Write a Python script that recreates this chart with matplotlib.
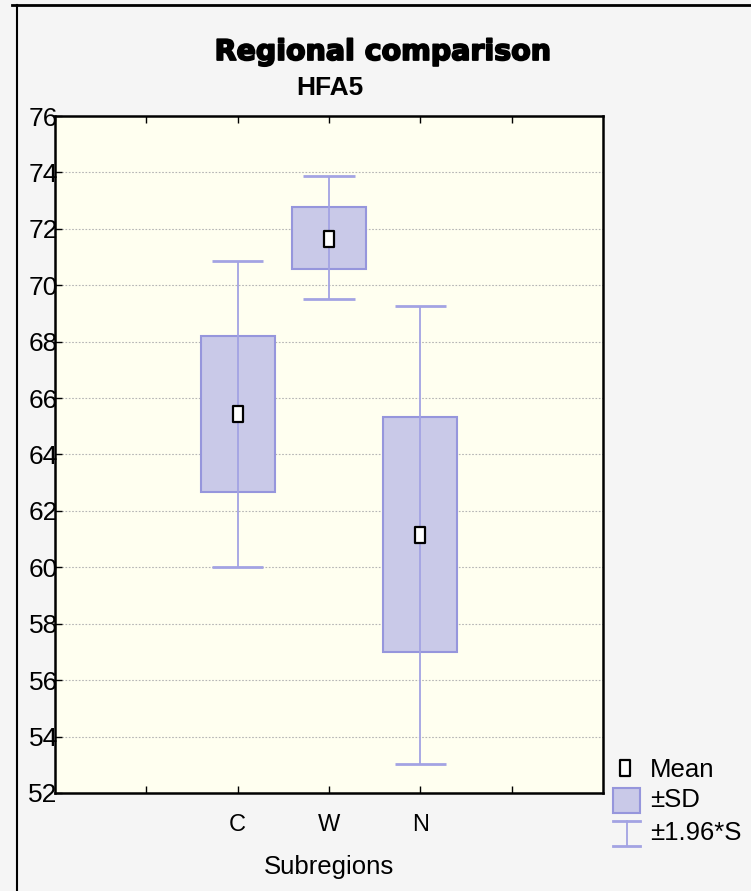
import matplotlib
matplotlib.use("Agg")
import matplotlib.pyplot as plt
from matplotlib.lines import Line2D
from matplotlib.patches import Rectangle
from matplotlib.path import Path
from matplotlib import font_manager
import matplotlib.patheffects as pe

categories = ["C", "W", "N"]
means = [65.43, 71.64, 61.14]
sd_low = [62.67, 70.57, 56.99]
sd_high = [68.20, 72.77, 65.33]
ci_low = [60.00, 69.51, 53.02]
ci_high = [70.86, 73.87, 69.26]
yticks = list(range(52, 77, 2))

names = {f.name for f in font_manager.fontManager.ttflist}
narrow = "Liberation Sans Narrow" if "Liberation Sans Narrow" in names else "Liberation Sans"

W, H = 751, 891
fig = plt.figure(figsize=(W / 100, H / 100), dpi=100)
fig.patch.set_facecolor("#f5f5f5")
plt.rcParams["font.family"] = ["Liberation Sans", "DejaVu Sans"]

ax = fig.add_axes([55 / W, 1 - 793 / H, 548 / W, (793 - 116) / H])
ax.set_facecolor("#fffff0")

positions = [2, 3, 4]
box_fc = "#c9c9e8"
box_ec = "#9696dc"
line_c = "#a3a3e3"

for x, m, sl, sh, cl, ch in zip(positions, means, sd_low, sd_high, ci_low, ci_high):
    ax.bar(x, sh - sl, bottom=sl, width=0.81, color=box_fc, edgecolor=box_ec,
           linewidth=1.5, zorder=2)
    ax.vlines(x, cl, ch, color=line_c, linewidth=1.3, zorder=3)
    ax.hlines([cl, ch], x - 0.28, x + 0.28, color=line_c, linewidth=2, zorder=3)

rect_marker = Path([(-0.35, -0.5), (0.35, -0.5), (0.35, 0.5), (-0.35, 0.5), (-0.35, -0.5)],
                   [Path.MOVETO, Path.LINETO, Path.LINETO, Path.LINETO, Path.CLOSEPOLY])
ax.plot(positions, means, linestyle="none", marker=rect_marker, markersize=11,
        markerfacecolor="white", markeredgecolor="black", markeredgewidth=1.6, zorder=5)

ax.set_xlim(0, 6)
ax.set_ylim(52, 76)
ax.set_yticks(yticks)
ax.set_yticklabels([str(v) for v in yticks], fontfamily=narrow, fontsize=19)
ax.set_xticks([1, 2, 3, 4, 5])
ax.set_xticklabels(["", "C", "W", "N", ""])
ax.yaxis.grid(True, linestyle=(0, (1.5, 1.5)), color="#b5b5b5", linewidth=0.8, zorder=0)
ax.set_axisbelow(True)
ax.tick_params(axis="y", direction="in", length=5, width=1, pad=-2, colors="black")
ax.tick_params(axis="x", direction="in", length=5, width=1, labelsize=17, pad=15,
               top=True)
for s in ax.spines.values():
    s.set_linewidth(1.8)
    s.set_color("black")
ax.set_xlabel("Subregions", fontsize=18.5, labelpad=14)

fig.text(383 / W, 1 - 60 / H, "Regional comparison", ha="center", va="baseline",
         fontsize=20.5, fontweight="bold", family="DejaVu Sans",
         path_effects=[pe.withStroke(linewidth=1.3, foreground="black")])
fig.text(330 / W, 1 - 95 / H, "HFA5", ha="center", va="baseline",
         fontsize=19, fontweight="bold")

# legend
fig.add_artist(Line2D([625 / W], [1 - 768 / H], marker=rect_marker, markersize=11,
                      markerfacecolor="white", markeredgecolor="black",
                      markeredgewidth=1.6, linestyle="none"))
fig.add_artist(Rectangle((613 / W, 1 - 813 / H), 27 / W, 25 / H, facecolor=box_fc,
                         edgecolor=box_ec, linewidth=1.5, transform=fig.transFigure))
fig.add_artist(Line2D([627 / W, 627 / W], [1 - 821 / H, 1 - 846 / H], color=line_c, linewidth=1.3))
fig.add_artist(Line2D([613 / W, 640 / W], [1 - 821 / H, 1 - 821 / H], color=line_c, linewidth=2))
fig.add_artist(Line2D([613 / W, 640 / W], [1 - 846 / H, 1 - 846 / H], color=line_c, linewidth=2))
for ty, txt in [(770, "Mean"), (800, "±SD"), (833, "±1.96*S")]:
    fig.text(650 / W, 1 - ty / H, txt, ha="left", va="center", fontsize=18.5)

# figure border lines
fig.add_artist(Line2D([12 / W, 1], [1 - 5 / H, 1 - 5 / H], color="black", linewidth=2))
fig.add_artist(Line2D([17 / W, 17 / W], [1 - 5 / H, 0], color="black", linewidth=1.5))

fig.savefig("out.png", dpi=100, facecolor=fig.get_facecolor())
